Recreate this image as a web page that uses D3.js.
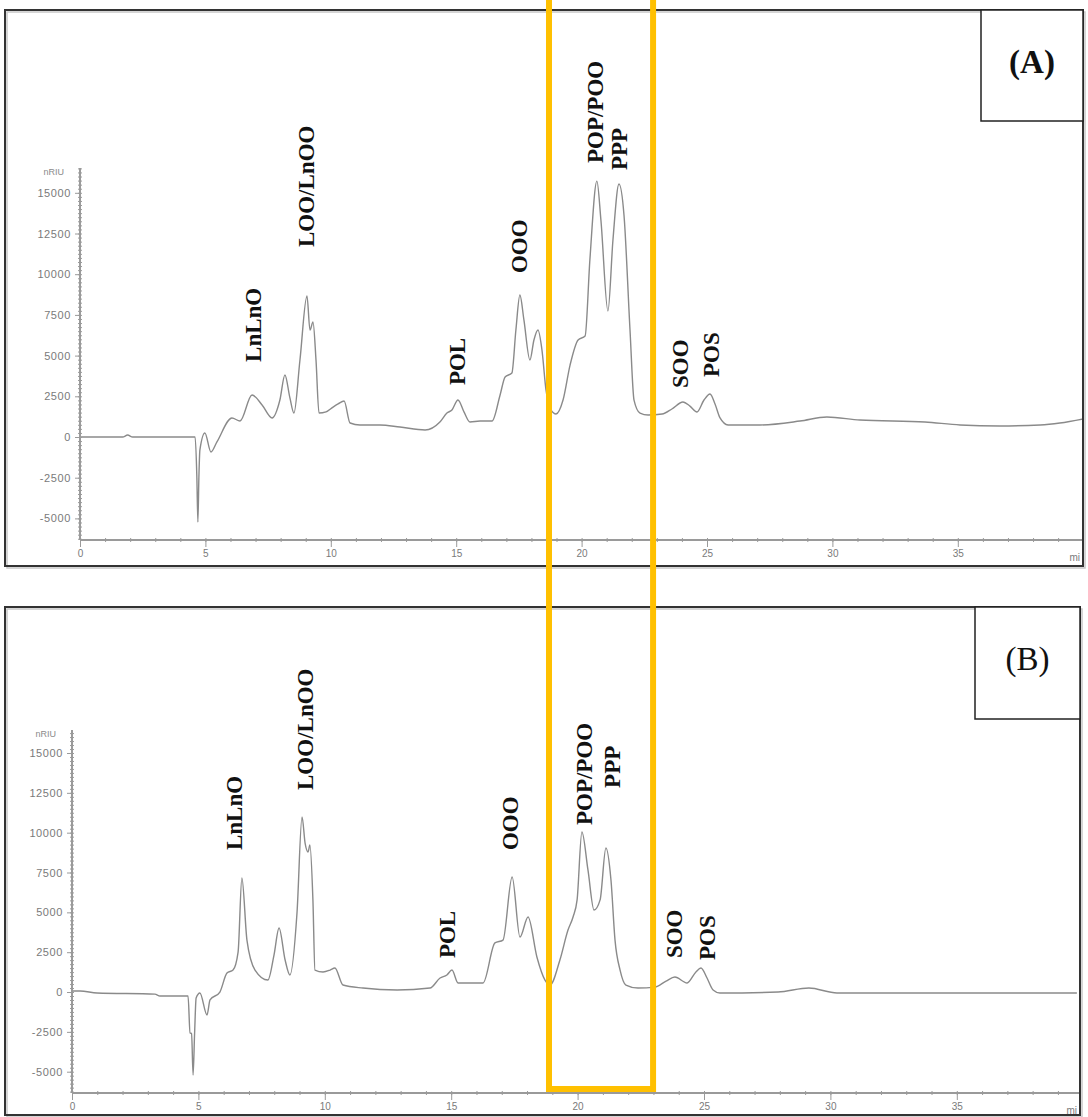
<!DOCTYPE html>
<html>
<head>
<meta charset="utf-8">
<script src="https://cdn.jsdelivr.net/npm/d3@7"></script>
<style>
  body { margin: 0; background: #fff; }
  svg { display: block; }
  .tick text { font-family: "Liberation Sans", Arial, sans-serif; fill: #7a7a7a; }
</style>
</head>
<body>
<div id="chart"></div>
<script>
// chromatogram traces (retention time in min, signal in nRIU)
var timeA = [0, 1.7, 1.9, 2.1, 4.59, 4.66, 4.70, 4.74, 4.78, 4.98, 5.22, 5.46, 6.06, 6.38, 6.86, 7.26, 7.66, 7.97, 8.17, 8.37, 8.53, 8.77, 9.05, 9.17, 9.29, 9.41, 9.53, 9.81, 10.09, 10.29, 10.53, 10.77, 11.16, 11.96, 12.76, 13.76, 14.35, 14.63, 14.83, 15.07, 15.31, 15.55, 15.95, 16.43, 16.75, 16.95, 17.22, 17.38, 17.54, 17.70, 17.94, 18.10, 18.26, 18.42, 18.58, 18.78, 18.98, 19.26, 19.54, 19.86, 20.14, 20.33, 20.61, 20.77, 21.05, 21.25, 21.49, 21.69, 21.93, 22.09, 22.33, 22.65, 23.21, 23.60, 24.04, 24.32, 24.60, 24.88, 25.12, 25.32, 25.52, 25.84, 27.11, 28.71, 29.78, 31.10, 33.69, 35.09, 36.68, 38.28, 39.07, 40];
var signalA = [0, 0, 120, 0, 0, -2500, -5220, -2500, -800, 250, -920, -300, 1170, 980, 2580, 1970, 1170, 2270, 3810, 2400, 1470, 4730, 8660, 6570, 7060, 4730, 1470, 1540, 1840, 2030, 2210, 860, 740, 740, 610, 430, 920, 1470, 1660, 2270, 1540, 920, 980, 980, 2580, 3690, 3930, 6570, 8720, 7190, 4730, 5960, 6570, 5340, 2890, 1660, 1410, 2270, 4420, 5960, 6200, 10870, 15720, 13330, 7740, 12100, 15540, 13640, 6570, 2270, 1470, 1350, 1410, 1720, 2150, 1900, 1540, 2270, 2640, 2030, 1170, 740, 740, 980, 1230, 1040, 920, 740, 680, 740, 860, 1110];

var timeB = [0, 0.32, 0.99, 3.28, 3.48, 4.59, 4.67, 4.73, 4.79, 4.85, 4.91, 5.06, 5.34, 5.46, 5.85, 6.13, 6.37, 6.57, 6.72, 6.92, 7.24, 7.75, 7.99, 8.19, 8.43, 8.62, 8.90, 9.10, 9.22, 9.34, 9.41, 9.53, 9.61, 9.93, 10.21, 10.40, 10.72, 11.51, 12.86, 14.16, 14.56, 14.83, 15.03, 15.27, 16.26, 16.73, 17.05, 17.41, 17.72, 18.04, 18.39, 18.71, 18.91, 19.30, 19.62, 19.82, 19.98, 20.17, 20.41, 20.65, 20.89, 21.12, 21.32, 21.48, 21.68, 21.91, 22.39, 23.06, 23.50, 23.85, 24.33, 24.68, 24.88, 25.12, 25.36, 25.63, 27.93, 29.15, 30.26, 39.75];
var signalB = [60, 60, -60, -130, -250, -250, -2570, -2600, -5210, -2570, -380, -60, -1440, -500, 0, 1190, 1380, 2510, 7160, 3260, 1380, 750, 2320, 4020, 2010, 1070, 4960, 10990, 9350, 8790, 9230, 5780, 1380, 1260, 1380, 1510, 440, 250, 130, 250, 880, 1070, 1380, 570, 570, 3080, 3260, 7220, 3450, 4710, 2200, 750, 440, 2010, 3890, 4710, 5780, 10040, 7660, 5150, 5780, 9040, 7030, 3260, 1380, 440, 250, 310, 690, 940, 570, 1260, 1510, 880, 130, -60, 0, 250, -60, -60];

// peak annotations: name, time and signal level at the lower end of the label
var peakNames = ["LnLnO", "LOO/LnOO", "POL", "OOO", "POP/POO", "PPP", "SOO", "POS"];
var labelTimeA = [6.90, 9.05, 15.07, 17.54, 20.57, 21.53, 23.96, 25.16];
var labelLevelA = [4610, 11670, 3190, 10070, 16830, 16400, 3010, 3690];
var labelTimeB = [6.41, 9.22, 14.87, 17.33, 20.29, 21.40, 23.85, 25.12];
var labelLevelB = [8910, 12680, 2130, 8910, 10480, 12810, 2130, 2010];

// axis ticks
var yTicks = [-5000, -2500, 0, 2500, 5000, 7500, 10000, 12500, 15000];
var xTicks = [0, 5, 10, 15, 20, 25, 30, 35];

// highlighted retention window (min)
var highlight = [18.7, 22.85];

var width = 1088;
var height = 1117;

var svg = d3.select("#chart")
    .append("svg")
    .attr("width", width)
    .attr("height", height);

svg.append("rect").attr("width", width).attr("height", height).attr("fill", "#fff");

var panels = [
    {
        id: "A", title: "(A)", bold: true,
        frame: [5, 10, 1083, 566], box: [981, 10, 1083, 121],
        xRange: [80, 1083.2], yRange: [518.4, 192.8],
        axisY: 540, axisTop: 168,
        time: timeA, signal: signalA, lt: labelTimeA, lv: labelLevelA
    },
    {
        id: "B", title: "(B)", bold: false,
        frame: [5, 607, 1080, 1115], box: [975, 607, 1080, 719],
        xRange: [72, 1083.2], yRange: [1071.7, 753],
        axisY: 1093, axisTop: 730,
        time: timeB, signal: signalB, lt: labelTimeB, lv: labelLevelB
    }
];

var xFirst;

panels.forEach(function(p) {
    var x = d3.scaleLinear().domain([0, 40]).range(p.xRange);
    var y = d3.scaleLinear().domain([-5000, 15000]).range(p.yRange);
    if (!xFirst) xFirst = x;
    var f = p.frame;

    // clip to the frame
    svg.append("clipPath").attr("id", "clip" + p.id)
        .append("rect")
        .attr("x", f[0]).attr("y", f[1])
        .attr("width", f[2] - f[0]).attr("height", f[3] - f[1]);

    var g = svg.append("g");
    var inner = g.append("g").attr("clip-path", "url(#clip" + p.id + ")");

    // x axis: minor ticks both sides, major ticks below
    var x0 = x.range()[0];
    var minorX = d3.range(0, 41, 1);
    inner.append("g")
        .attr("transform", "translate(0," + (p.axisY - 2) + ")")
        .call(d3.axisBottom(x).tickValues(minorX).tickSize(4).tickFormat(""))
        .call(function(s) {
            s.select(".domain").remove();
            s.selectAll("line").attr("stroke", "#9a9a9a").attr("stroke-width", 1);
        });
    inner.append("g")
        .attr("transform", "translate(0," + p.axisY + ")")
        .call(d3.axisBottom(x).tickValues(xTicks).tickSize(7).tickPadding(3))
        .call(function(s) {
            s.select(".domain").attr("stroke", "#9a9a9a").attr("stroke-width", 2)
                .attr("d", "M" + x0 + ",0H" + x(40));
            s.selectAll("line").attr("stroke", "#9a9a9a").attr("stroke-width", 1);
            s.selectAll("text").attr("font-size", 10);
        });
    // unit at the end of the time axis (cut short in the original)
    g.append("text")
        .attr("x", f[2] - 3).attr("y", p.axisY + 21)
        .attr("text-anchor", "end")
        .attr("font-family", "Liberation Sans, Arial, sans-serif")
        .attr("font-size", 10).attr("fill", "#7a7a7a")
        .text("mi");

    // y axis
    var top = y.invert(p.axisTop);
    var bottom = y.invert(p.axisY);
    var minorY = d3.range(Math.ceil(bottom / 250) * 250, top, 250);
    g.append("g")
        .attr("transform", "translate(" + (x0 + 2) + ",0)")
        .call(d3.axisLeft(y).tickValues(minorY).tickSize(4).tickFormat(""))
        .call(function(s) {
            s.select(".domain").remove();
            s.selectAll("line").attr("stroke", "#9a9a9a").attr("stroke-width", 1);
        });
    g.append("g")
        .attr("transform", "translate(" + x0 + ",0)")
        .call(d3.axisLeft(y).tickValues(yTicks).tickSize(5).tickPadding(4)
            .tickFormat(function(d) { return String(d); }))
        .call(function(s) {
            s.select(".domain").attr("stroke", "#9a9a9a").attr("stroke-width", 2)
                .attr("d", "M0," + p.axisTop + "V" + p.axisY);
            s.selectAll("line").attr("stroke", "#9a9a9a").attr("stroke-width", 1);
            s.selectAll("text").attr("font-size", 11).attr("letter-spacing", "0.6px");
        });
    g.append("text")
        .attr("x", x0 - 16).attr("y", p.axisTop + 7)
        .attr("text-anchor", "end")
        .attr("font-family", "Liberation Sans, Arial, sans-serif")
        .attr("font-size", 9).attr("fill", "#8a8a8a")
        .text("nRIU");

    // trace
    var pts = p.time.map(function(t, i) { return [t, p.signal[i]]; });
    inner.append("path")
        .datum(pts)
        .attr("fill", "none")
        .attr("stroke", "#8a8a8a")
        .attr("stroke-width", 1.4)
        .attr("stroke-linejoin", "round")
        .attr("d", d3.line()
            .curve(d3.curveMonotoneX)
            .x(function(d) { return x(d[0]); })
            .y(function(d) { return y(d[1]); }));

    // peak labels, rotated
    peakNames.forEach(function(name, i) {
        g.append("text")
            .attr("transform", "translate(" + x(p.lt[i]) + "," + y(p.lv[i]) + ") rotate(-90)")
            .attr("text-anchor", "start")
            .attr("dominant-baseline", "central")
            .attr("font-family", "Liberation Serif, Times New Roman, serif")
            .attr("font-weight", "bold")
            .attr("font-size", 23)
            .attr("fill", "#111")
            .text(name);
    });

    // frame with faint shadow
    g.append("rect")
        .attr("x", f[0] + 2).attr("y", f[1] + 2)
        .attr("width", f[2] - f[0]).attr("height", f[3] - f[1])
        .attr("fill", "none").attr("stroke", "#c8c8c8").attr("stroke-width", 1.5);
    g.append("rect")
        .attr("x", f[0]).attr("y", f[1])
        .attr("width", f[2] - f[0]).attr("height", f[3] - f[1])
        .attr("fill", "none").attr("stroke", "#333").attr("stroke-width", 2);

    // panel tag box
    var b = p.box;
    g.append("rect")
        .attr("x", b[0]).attr("y", b[1])
        .attr("width", b[2] - b[0]).attr("height", b[3] - b[1])
        .attr("fill", "#fff").attr("stroke", "#222").attr("stroke-width", 1.5);
    g.append("text")
        .attr("x", (b[0] + b[2]) / 2).attr("y", (b[1] + b[3]) / 2 - 4)
        .attr("text-anchor", "middle")
        .attr("dominant-baseline", "central")
        .attr("font-family", "Liberation Serif, Times New Roman, serif")
        .attr("font-weight", p.bold ? "bold" : "normal")
        .attr("font-size", 33)
        .attr("fill", "#111")
        .text(p.title);
});

// orange highlight over both panels
svg.append("rect")
    .attr("x", xFirst(highlight[0]))
    .attr("y", -10)
    .attr("width", xFirst(highlight[1]) - xFirst(highlight[0]))
    .attr("height", 1099)
    .attr("fill", "none")
    .attr("stroke", "#FFC000")
    .attr("stroke-width", 6);
</script>
</body>
</html>
